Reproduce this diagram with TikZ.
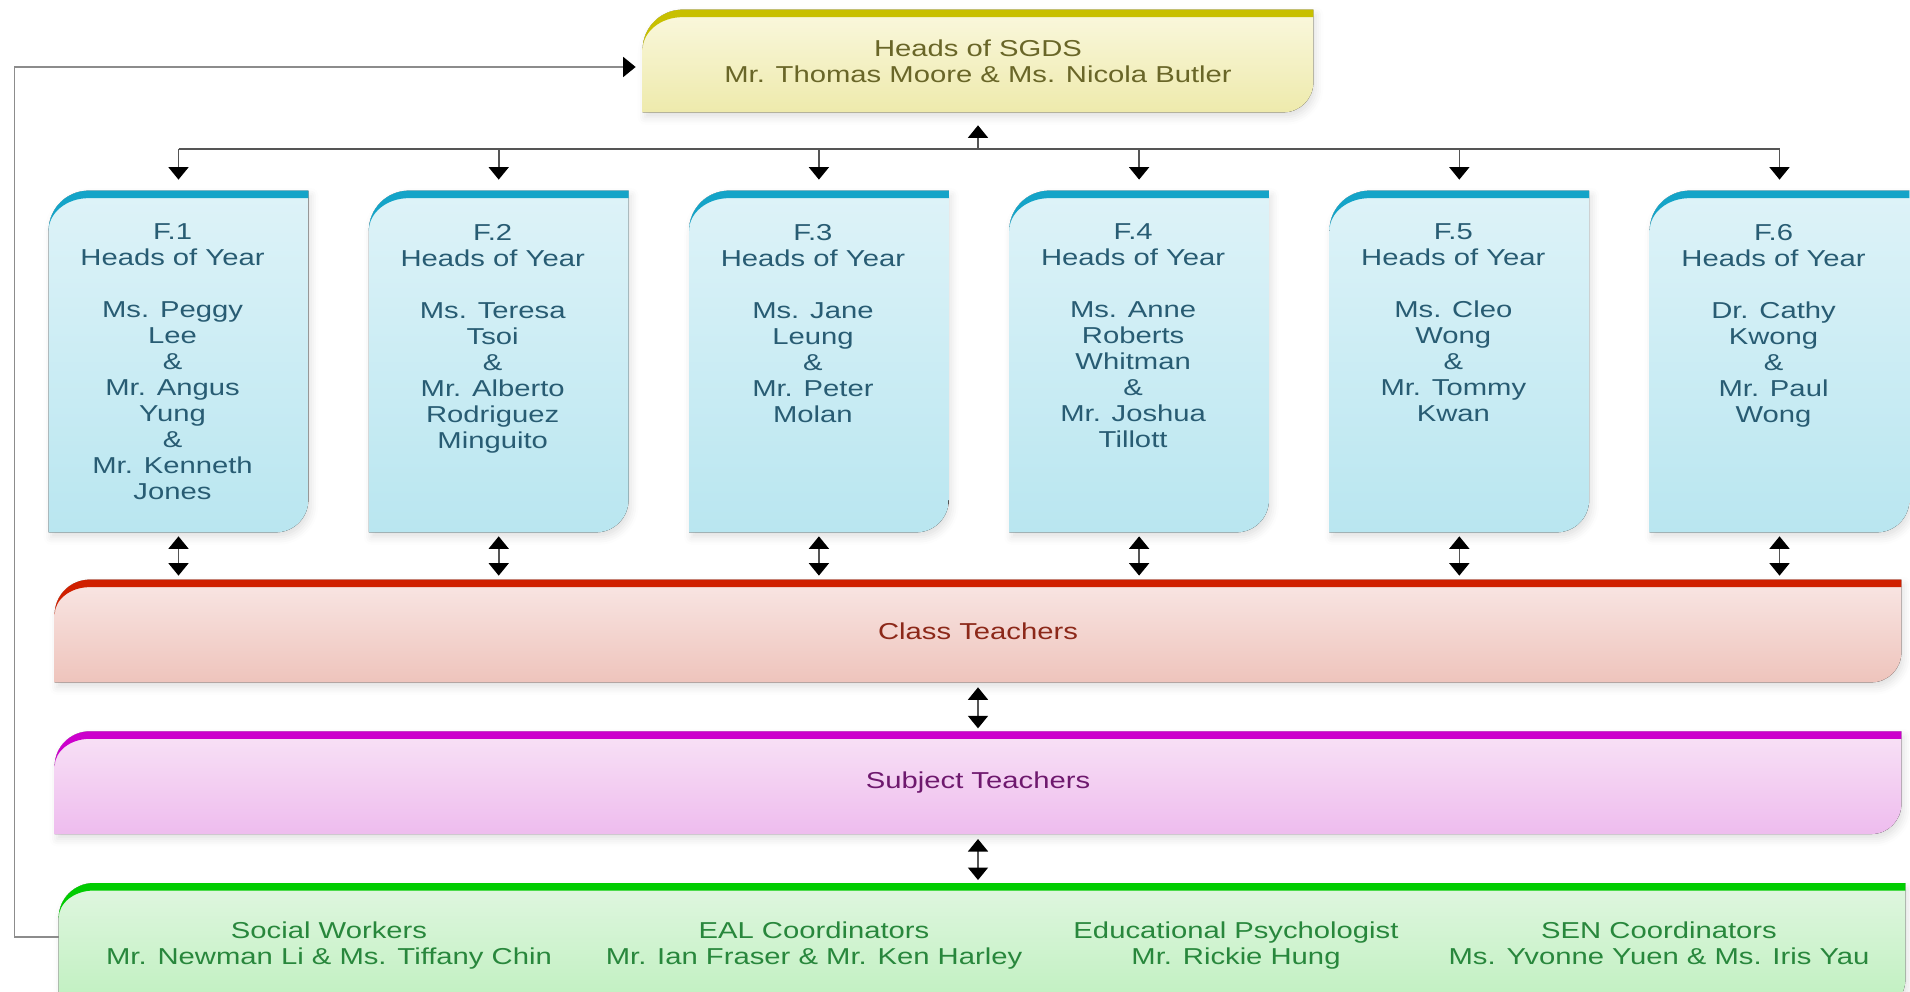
\documentclass[tikz,border=0pt]{standalone}
\usepackage{fontspec}
\setmainfont[FakeStretch=1.27]{Liberation Sans}
\usetikzlibrary{positioning, arrows.meta, backgrounds, shadows.blur}

\definecolor{sgdsline}{RGB}{200,192,0}
\definecolor{sgdstop}{RGB}{250,248,222}
\definecolor{sgdsbot}{RGB}{238,234,172}
\definecolor{sgdstext}{RGB}{105,102,40}
\definecolor{yearline}{RGB}{20,164,200}
\definecolor{yeartop}{RGB}{222,243,248}
\definecolor{yearbot}{RGB}{185,230,240}
\definecolor{yeartext}{RGB}{40,92,115}
\definecolor{ctline}{RGB}{208,32,0}
\definecolor{cttop}{RGB}{249,230,228}
\definecolor{ctbot}{RGB}{238,196,188}
\definecolor{cttext}{RGB}{140,40,25}
\definecolor{stline}{RGB}{204,0,204}
\definecolor{sttop}{RGB}{248,226,246}
\definecolor{stbot}{RGB}{238,188,238}
\definecolor{sttext}{RGB}{110,25,110}
\definecolor{supline}{RGB}{0,204,0}
\definecolor{suptop}{RGB}{224,246,224}
\definecolor{supbot}{RGB}{190,240,190}
\definecolor{suptext}{RGB}{40,135,60}
\definecolor{linkgray}{RGB}{85,85,85}
\definecolor{loopgray}{RGB}{140,140,140}

\tikzset{
  box/.style={inner sep=0pt, align=center, font=\fontsize{13.1}{14.8}\selectfont},
  sgdsbox/.style={box, minimum width=13.4cm, minimum height=2.04cm, text=sgdstext},
  yearbox/.style={box, minimum width=5.18cm, minimum height=6.82cm, text=yeartext},
  band/.style={box, minimum width=36.92cm, minimum height=2.04cm},
  suptxt/.style={box, text=suptext, execute at begin node=\strut, execute at end node=\strut},
  link/.style={draw=linkgray, line width=0.9pt},
  loopline/.style={draw=loopgray, line width=0.9pt}
}

\newcommand{\hoy}[2]{\hspace*{-0.24cm}\parbox[c][5.5cm][t]{5.1cm}{\centering #1\\Heads of Year\\[14.8pt]#2}}

\begin{document}
\begin{tikzpicture}[>={Triangle[width=0.4cm,length=0.25cm,black]}]
  \useasboundingbox (0,0) rectangle (38.2,19.84);
  \clip (0,0) rectangle (38.2,19.84);

  \node[sgdsbox] (top) at (19.56,18.62) {Heads of SGDS\\Mr. Thomas Moore \& Ms. Nicola Butler};

  % heads of year
  \node[yearbox] (f1) at (3.57,12.61) {\hoy{F.1}{Ms. Peggy\\Lee\\\&\\Mr. Angus\\Yung\\\&\\Mr. Kenneth\\Jones}};
  \node[yearbox, right=1.21cm of f1] (f2) {\hoy{F.2}{Ms. Teresa\\Tsoi\\\&\\Mr. Alberto\\Rodriguez\\Minguito}};
  \node[yearbox, right=1.21cm of f2] (f3) {\hoy{F.3}{Ms. Jane\\Leung\\\&\\Mr. Peter\\Molan}};
  \node[yearbox, right=1.21cm of f3] (f4) {\hoy{F.4}{Ms. Anne\\Roberts\\Whitman\\\&\\Mr. Joshua\\Tillott}};
  \node[yearbox, right=1.21cm of f4] (f5) {\hoy{F.5}{Ms. Cleo\\Wong\\\&\\Mr. Tommy\\Kwan}};
  \node[yearbox, right=1.21cm of f5] (f6) {\hoy{F.6}{Dr. Cathy\\Kwong\\\&\\Mr. Paul\\Wong}};

  % teachers and support
  \node[band, text=cttext] (ct) at (19.56,7.22) {Class Teachers};
  \node[band, text=sttext, below=0.98cm of ct] (st) {Subject Teachers};
  \node[band, minimum height=2.56cm, below=0.98cm of st, xshift=0.08cm] (bot) {};
  \node[suptxt] (sw) at (6.58,0.9) {Social Workers\\Mr. Newman Li \& Ms. Tiffany Chin};
  \node[suptxt] (eal) at (16.28,0.9) {EAL Coordinators\\Mr. Ian Fraser \& Mr. Ken Harley};
  \node[suptxt] (psy) at (24.72,0.9) {Educational Psychologist\\Mr. Rickie Hung};
  \node[suptxt] (sen) at (33.18,0.9) {SEN Coordinators\\Ms. Yvonne Yuen \& Ms. Iris Yau};

  % box shapes
  \begin{scope}[on background layer]
    \foreach \n/\cl/\ra/\rb in {top/sgds/0.8cm/0.6cm, f1/year/0.8cm/0.65cm, f2/year/0.8cm/0.65cm,
        f3/year/0.8cm/0.65cm, f4/year/0.8cm/0.65cm, f5/year/0.8cm/0.65cm, f6/year/0.8cm/0.65cm,
        ct/ct/0.7cm/0.6cm, st/st/0.7cm/0.6cm, bot/sup/0.7cm/0.65cm} {
      \coordinate (nw) at (\n.north west);
      \coordinate (se) at (\n.south east);
      \coordinate (ne) at (\n.north east);
      \fill[top color=\cl top, bottom color=\cl bot,
            blur shadow={shadow xshift=0.05cm, shadow yshift=-0.1cm, shadow opacity=12, shadow blur radius=0.15cm}]
        (nw |- se) -- ([yshift=-\ra]nw) arc[start angle=180, end angle=90, radius=\ra]
        -- (ne) -- ([yshift=\rb]se) arc[start angle=0, end angle=-90, radius=\rb] -- cycle;
      \fill[fill=\cl line] ([yshift=-\ra]nw) arc[start angle=180, end angle=90, radius=\ra]
        -- (ne) -- ([yshift=-0.15cm]ne) -- ([xshift=\ra, yshift=-0.15cm]nw)
        arc[start angle=90, end angle=180, x radius=\ra, y radius=\ra-0.15cm] -- cycle;
    }
  \end{scope}

  % connectors
  \coordinate (bus) at (19.56,16.86);
  \coordinate (lp) at (0.29,1.1);
  \draw[link] (f1 |- bus) -- (f6 |- bus);
  \draw[link, ->, shorten >=0.26cm] (bus) -- (top.south);
  \foreach \i in {1,...,6} {
    \draw[link, ->, shorten >=0.22cm] (f\i |- bus) -- (f\i.north);
    \draw[link, <->, shorten <=0.08cm, shorten >=0.08cm] (f\i.south) -- (f\i.south |- ct.north);
  }
  \draw[link, <->, shorten <=0.1cm, shorten >=0.06cm] (ct.south) -- (st.north);
  \draw[link, <->, shorten <=0.1cm, shorten >=0.06cm] (st.south) -- (st.south |- bot.north);
  \draw[loopline, ->, shorten >=0.14cm] (lp -| bot.west) -- (lp) |- ([yshift=-0.12cm]top.west);
\end{tikzpicture}
\end{document}
